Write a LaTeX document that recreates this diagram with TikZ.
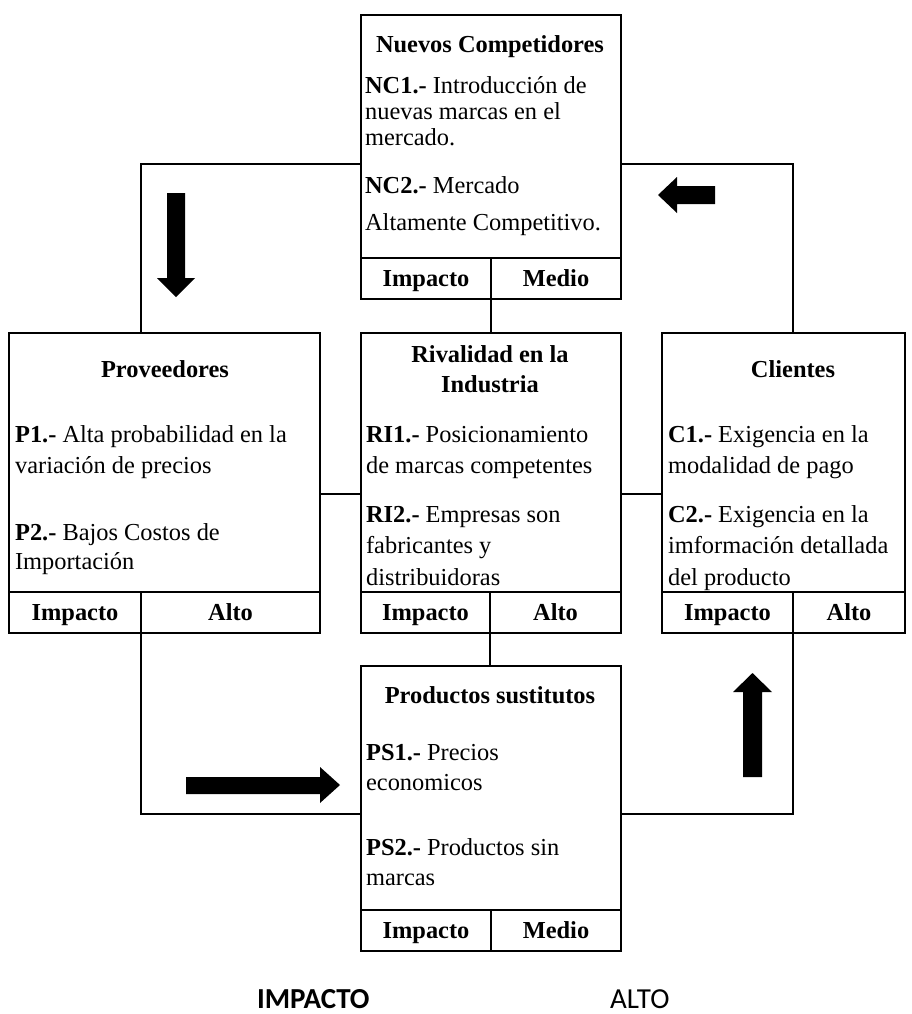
\documentclass[tikz,border=0pt]{standalone}
\usepackage{fontspec}
\setmainfont{Liberation Serif}
\newfontfamily\calibrifont{Carlito}

\begin{document}
\begin{tikzpicture}[x=0.5pt,y=-0.5pt,line width=1.1pt,
  font=\fontsize{12.2pt}{14pt}\selectfont,
  caja/.style={draw, anchor=north west, inner sep=0pt, outer sep=0pt},
  celda/.style={draw, anchor=north west, inner sep=0pt, outer sep=0pt, minimum height=20.5pt, text height=8.4pt, text depth=0pt, font=\fontsize{12.2pt}{14pt}\selectfont\bfseries},
  tit/.style={anchor=base, inner sep=0pt, font=\fontsize{12.2pt}{14pt}\selectfont\bfseries},
  txt/.style={anchor=base west, inner sep=0pt},
  flecha/.style={fill=black}]
\useasboundingbox (0,0) rectangle (912,1014);

% cajas
\node[caja, minimum width=130pt, minimum height=121.5pt] (nc) at (361,15) {};
\node[celda, minimum width=65pt] (ncI) at (nc.south west) {Impacto};
\node[celda, minimum width=65pt] (ncV) at (ncI.north east) {Medio};

\node[caja, minimum width=155.5pt, minimum height=129.5pt] (pv) at (9,333) {};
\node[celda, minimum width=66pt] (pvI) at (pv.south west) {Impacto};
\node[celda, minimum width=89.5pt] (pvV) at (pvI.north east) {Alto};

\node[caja, minimum width=130pt, minimum height=129.5pt] (ri) at (361,333) {};
\node[celda, minimum width=64.5pt] (riI) at (ri.south west) {Impacto};
\node[celda, minimum width=65.5pt] (riV) at (riI.north east) {Alto};

\node[caja, minimum width=121.5pt, minimum height=129.5pt] (cl) at (662,333) {};
\node[celda, minimum width=65.5pt] (clI) at (cl.south west) {Impacto};
\node[celda, minimum width=56pt] (clV) at (clI.north east) {Alto};

\node[caja, minimum width=130pt, minimum height=122pt] (ps) at (361,666) {};
\node[celda, minimum width=65pt] (psI) at (ps.south west) {Impacto};
\node[celda, minimum width=65pt] (psV) at (psI.north east) {Medio};

% textos
\node[tit] (ncT) at (490,52) {Nuevos Competidores};
\node[txt] (nc1a) at (364,93) {\textbf{NC1.-} Introducción de};
\node[txt] (nc1b) at (364,119) {nuevas marcas en el};
\node[txt] (nc1c) at (364,145) {mercado.};
\node[txt] (nc2a) at (364,193) {\textbf{NC2.-} Mercado};
\node[txt] (nc2b) at (364,230) {Altamente Competitivo.};

\node[tit] (pvT) at (165,377) {Proveedores};
\node[txt] (pv1a) at (14,442) {\textbf{P1.-} Alta probabilidad en la};
\node[txt] (pv1b) at (14,473) {variación de precios};
\node[txt] (pv2a) at (14,540) {\textbf{P2.-} Bajos Costos de};
\node[txt] (pv2b) at (14,569) {Importación};

\node[tit] (riTa) at (490,362) {Rivalidad en la};
\node[tit] (riTb) at (490,392) {Industria};
\node[txt] (ri1a) at (365,442) {\textbf{RI1.-} Posicionamiento};
\node[txt] (ri1b) at (365,473) {de marcas competentes};
\node[txt] (ri2a) at (365,522) {\textbf{RI2.-} Empresas son};
\node[txt] (ri2b) at (365,553) {fabricantes y};
\node[txt] (ri2c) at (365,585) {distribuidoras};

\node[tit] (clT) at (793,377) {Clientes};
\node[txt] (cl1a) at (667,442) {\textbf{C1.-} Exigencia en la};
\node[txt] (cl1b) at (667,473) {modalidad de pago};
\node[txt] (cl2a) at (667,522) {\textbf{C2.-} Exigencia en la};
\node[txt] (cl2b) at (667,553) {imformación detallada};
\node[txt] (cl2c) at (667,585) {del producto};

\node[tit] (psT) at (490,703) {Productos sustitutos};
\node[txt] (ps1a) at (365,760) {\textbf{PS1.-} Precios};
\node[txt] (ps1b) at (365,790) {economicos};
\node[txt] (ps2a) at (365,855) {\textbf{PS2.-} Productos sin};
\node[txt] (ps2b) at (365,885) {marcas};

\node[txt, text depth=0pt, font=\calibrifont\fontsize{14.5pt}{16pt}\selectfont\bfseries] (impacto) at (256,1008) {IMPACTO};
\node[txt, text depth=0pt, font=\calibrifont\fontsize{14.5pt}{16pt}\selectfont] (alto) at (609,1008) {ALTO};

% conectores
\coordinate (arriba) at (0,164);
\coordinate (medio) at (0,494);
\coordinate (abajo) at (0,814);
\draw (arriba -| nc.west) -| (pv.north -| pvI.east);
\draw (arriba -| nc.east) -| (cl.north -| clI.east);
\draw (pvI.south east) |- (abajo -| ps.west);
\draw (clI.south east) |- (abajo -| ps.east);
\draw (ncI.south east) -- (ri.north -| ncI.east);
\draw (riI.south east) -- (ps.north -| riI.east);
\draw (medio -| pv.east) -- (medio -| ri.west);
\draw (medio -| ri.east) -- (medio -| cl.west);

% flechas
\fill[flecha] (167,193) -- (185,193) -- (185,278) -- (195,278) -- (176,297) -- (157,278) -- (167,278) -- cycle;
\fill[flecha] (715,186) -- (715,204) -- (677,204) -- (677,213) -- (658,195) -- (677,177) -- (677,186) -- cycle;
\fill[flecha] (186,777) -- (320,777) -- (320,767) -- (340,785) -- (320,803) -- (320,794) -- (186,794) -- cycle;
\fill[flecha] (743,777) -- (743,692) -- (733,692) -- (752.5,673) -- (772,692) -- (762,692) -- (762,777) -- cycle;
\end{tikzpicture}
\end{document}
